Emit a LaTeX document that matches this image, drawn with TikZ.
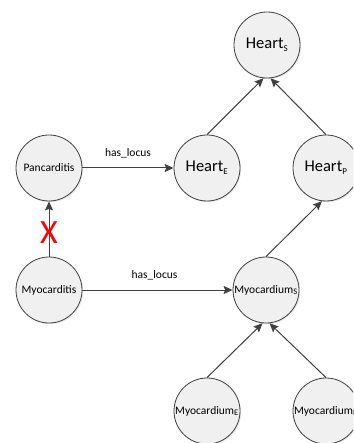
\documentclass[tikz,border=0pt]{standalone}
\usepackage{fontspec}
\setmainfont{Carlito}
\usetikzlibrary{arrows.meta,shadows}
\definecolor{edgegray}{HTML}{404040}
\definecolor{nodefill}{HTML}{F0F0F0}
\begin{document}
\begin{tikzpicture}[x=1pt,y=-1pt,
  concept/.style={circle,draw=edgegray,fill=nodefill,line width=0.8pt,minimum size=66pt,inner sep=0pt,
    drop shadow={opacity=0.18,shadow xshift=1.2pt,shadow yshift=-1.2pt},font=\fontsize{11.5}{13}\selectfont},
  bigconcept/.style={concept,font=\fontsize{16.5}{18}\selectfont},
  rel/.style={draw=edgegray,line width=1pt,-{Stealth[length=9pt,width=8pt,inset=1.5pt]}},
  lbl/.style={font=\fontsize{11.5}{13}\selectfont,text=black}]
\useasboundingbox (0,0) rectangle (353,443);
\clip (0,0) rectangle (353,443);
\fill[white] (0,0) rectangle (353,443);
\node[bigconcept] (hs) at (267,45) {Heart\textsubscript{\fontsize{9}{10}\selectfont S}};
\node[bigconcept] (he) at (207,168) {Heart\textsubscript{\fontsize{9}{10}\selectfont E}};
\node[bigconcept] (hp) at (326,168) {Heart\textsubscript{\fontsize{9}{10}\selectfont P}};
\node[concept] (pan) at (49,168) {Pancarditis};
\node[concept] (myo) at (49,290) {Myocarditis};
\node[concept] (ms) at (266,290) {\makebox[0pt]{Myocardium\textsubscript{\fontsize{8.5}{9}\selectfont S}}};
\node[concept] (me) at (207,411) {\makebox[0pt]{Myocardium\textsubscript{\fontsize{8.5}{9}\selectfont E}}};
\node[concept] (mp) at (326,411) {\makebox[0pt]{Myocardium\textsubscript{\fontsize{8.5}{9}\selectfont P}}};
\draw[rel] (he.north) -- (hs.264);
\draw[rel] (hp.north) -- (hs.276);
\draw[rel] (ms.north) -- (hp.263);
\draw[rel] (me.north) -- (ms.264);
\draw[rel] (mp.north) -- (ms.276);
\draw[rel] (pan) -- node[lbl,above=6pt] (l1) {has\_locus} (he);
\draw[rel] (myo) -- node[lbl,above=6pt,pos=0.48] (l2) {has\_locus} (ms);
\draw[rel] (myo) -- (pan);
\node[text=red,font=\fontsize{34}{36}\selectfont,inner sep=0pt] (x) at (49,233) {X};
\end{tikzpicture}
\end{document}
